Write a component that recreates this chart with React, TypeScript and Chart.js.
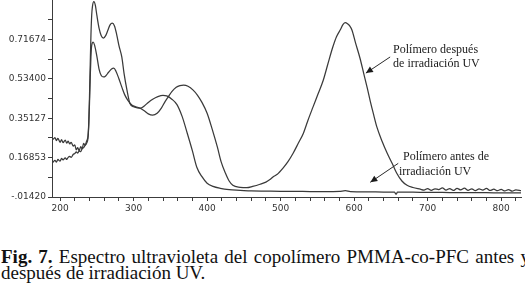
import React, { useEffect, useRef } from "react";
import { Chart, registerables } from "chart.js";

Chart.register(...registerables);

// ---- data (wavelength nm, absorbance) ----
const beforeX = [189,191,193,195,197,200,202,204,207,209,211,213,215,218,220,222,224,226,228,230,232,234,236,238,239,240,241,242,243,244,246,248,250,253,256,259,262,265,268,271,274,277,280,284,287,291,295,300,305,309,315,320,326,333,340,345,352,359,366,373,380,386,393,400,408,418,430,445,460,480,500,520,540,560,580,588,595,620,640,655,657,659,680,700,720,740,760,780,800,827];
const beforeY = [0.263,0.255,0.262,0.248,0.258,0.240,0.252,0.238,0.250,0.236,0.245,0.232,0.240,0.222,0.228,0.205,0.215,0.200,0.220,0.210,0.235,0.225,0.245,0.270,0.330,0.450,0.600,0.740,0.830,0.870,0.893,0.875,0.830,0.770,0.735,0.724,0.735,0.760,0.785,0.793,0.780,0.740,0.690,0.635,0.560,0.482,0.420,0.405,0.400,0.398,0.410,0.425,0.440,0.452,0.458,0.455,0.440,0.415,0.360,0.282,0.200,0.124,0.080,0.050,0.035,0.026,0.020,0.017,0.014,0.013,0.012,0.012,0.011,0.011,0.012,0.015,0.011,0.010,0.009,0.008,-0.002,0.008,0.008,0.007,0.007,0.006,0.006,0.006,0.005,0.005];

const afterX = [189,191,193,195,197,200,202,204,207,209,211,213,215,218,220,222,224,226,228,230,232,234,236,238,239,240,241,242,243,245,247,250,253,256,259,262,266,270,273,276,280,284,288,292,298,303,309,315,320,326,332,338,343,347,352,358,363,368,374,381,387,393,400,407,414,419,425,430,435,445,454,462,472,480,486,490,495,503,510,517,524,531,537,544,551,558,564,571,576,581,585,588,591,594,597,602,608,613,618,622,626,631,638,645,652,658,665,672,680,690,695,700,705,710,715,720,725,730,735,740,745,750,755,760,765,770,775,780,785,790,795,800,805,810,815,820,827];
const afterY = [0.142,0.150,0.156,0.148,0.160,0.152,0.165,0.158,0.168,0.160,0.170,0.175,0.170,0.184,0.188,0.195,0.190,0.200,0.196,0.210,0.215,0.225,0.235,0.260,0.320,0.420,0.540,0.640,0.690,0.705,0.690,0.640,0.580,0.550,0.543,0.548,0.565,0.580,0.584,0.570,0.535,0.496,0.460,0.436,0.412,0.405,0.398,0.385,0.372,0.366,0.375,0.400,0.430,0.450,0.475,0.495,0.503,0.505,0.500,0.482,0.458,0.425,0.375,0.300,0.217,0.150,0.096,0.060,0.040,0.031,0.029,0.035,0.045,0.055,0.068,0.080,0.090,0.119,0.150,0.189,0.235,0.282,0.340,0.403,0.465,0.528,0.600,0.682,0.730,0.761,0.787,0.795,0.790,0.780,0.761,0.700,0.630,0.560,0.490,0.430,0.375,0.310,0.245,0.189,0.140,0.096,0.060,0.040,0.030,0.022,0.018,0.025,0.017,0.024,0.020,0.028,0.018,0.025,0.016,0.026,0.019,0.027,0.017,0.024,0.015,0.023,0.018,0.026,0.016,0.022,0.015,0.021,0.014,0.020,0.013,0.019,0.015];

const yTickValues = [-0.0142, 0.16853, 0.35127, 0.534, 0.71674];
const yTickLabels = ["-.01420", "0.16853", "0.35127", "0.53400", "0.71674"];
const xTickLabels = [200, 300, 400, 500, 600, 700, 800];

const xMin = 189;
const xMax = 827;
const yMin = -0.0142;
const yMax = 0.9005;

// annotations in data coordinates
const noteAfterLines = ["Polímero después", "de irradiación UV"];
const noteAfterTextX = [653, 653];
const noteAfterTextY = [0.668, 0.606];
const noteAfterArrow = [649, 0.636, 616, 0.561];

const noteBeforeLines = ["Polímero antes de", "irradiación UV"];
const noteBeforeTextX = [666.5, 661];
const noteBeforeTextY = [0.171, 0.101];
const noteBeforeArrow = [660, 0.142, 622, 0.054];

const captionBold = "Fig. 7.";
const captionLine1 = " Espectro ultravioleta del copolímero PMMA-co-PFC antes y";
const captionLine2 = "después de irradiación UV.";

const notesPlugin = {
  id: "notes",
  afterDatasetsDraw(chart: any) {
    const { ctx, scales } = chart;
    const xs = scales.x;
    const ys = scales.y;
    ctx.save();
    ctx.fillStyle = "#1a1a1a";
    ctx.strokeStyle = "#2a2a2a";
    ctx.font = '12px "Liberation Serif"';
    ctx.textBaseline = "middle";
    ctx.textAlign = "left";
    const drawNote = (lines: string[], tx: number[], ty: number[], arrow: number[]) => {
      lines.forEach((l, i) => {
        ctx.fillText(l, xs.getPixelForValue(tx[i]), ys.getPixelForValue(ty[i]));
      });
      const x0 = xs.getPixelForValue(arrow[0]);
      const y0 = ys.getPixelForValue(arrow[1]);
      const x1 = xs.getPixelForValue(arrow[2]);
      const y1 = ys.getPixelForValue(arrow[3]);
      ctx.lineWidth = 1;
      ctx.beginPath();
      ctx.moveTo(x0, y0);
      ctx.lineTo(x1, y1);
      ctx.stroke();
      const ang = Math.atan2(y1 - y0, x1 - x0);
      const L = 7;
      const W = 3.2;
      ctx.beginPath();
      ctx.moveTo(x1, y1);
      ctx.lineTo(x1 - L * Math.cos(ang) + W * Math.sin(ang), y1 - L * Math.sin(ang) - W * Math.cos(ang));
      ctx.lineTo(x1 - L * Math.cos(ang) - W * Math.sin(ang), y1 - L * Math.sin(ang) + W * Math.cos(ang));
      ctx.closePath();
      ctx.fill();
    };
    drawNote(noteAfterLines, noteAfterTextX, noteAfterTextY, noteAfterArrow);
    drawNote(noteBeforeLines, noteBeforeTextX, noteBeforeTextY, noteBeforeArrow);
    ctx.restore();
  },
};

export default function App() {
  const ref = useRef<HTMLCanvasElement>(null);
  useEffect(() => {
    if (!ref.current) return;
    const toPts = (xs: number[], ys: number[]) => xs.map((x, i) => ({ x, y: ys[i] }));
    const axisColor = "#3c3c3c";
    const lineStyle = {
      borderColor: "#3a3a3a",
      borderWidth: 1.25,
      pointRadius: 0,
      cubicInterpolationMode: "monotone",
      fill: false,
    };
    const chart = new Chart(ref.current, {
      type: "line",
      data: {
        datasets: [
          { label: "antes", data: toPts(beforeX, beforeY), ...lineStyle },
          { label: "después", data: toPts(afterX, afterY), ...lineStyle },
        ],
      },
      options: {
        responsive: false,
        animation: false,
        events: [],
        layout: { padding: { left: 0, top: 0, right: 4, bottom: 0 } },
        plugins: { legend: { display: false }, tooltip: { enabled: false } },
        scales: {
          x: {
            type: "linear",
            min: xMin,
            max: xMax,
            afterBuildTicks: (s: any) => {
              const t = [];
              for (let v = 200; v <= 820; v += 20) t.push({ value: v });
              s.ticks = t;
            },
            afterFit: (s: any) => {
              s.height = 23;
              s.paddingLeft = 0;
              s.paddingRight = 0;
            },
            ticks: {
              autoSkip: false,
              maxRotation: 0,
              padding: 2,
              color: "#333",
              font: { family: "DejaVu Sans", size: 9 },
              callback: (v: any) => (xTickLabels.includes(Math.round(v)) ? String(Math.round(v)) : ""),
            },
            grid: { drawOnChartArea: false, drawTicks: true, tickLength: 4, color: axisColor },
            border: { display: true, color: axisColor, width: 1 },
          },
          y: {
            type: "linear",
            min: yMin,
            max: yMax,
            afterBuildTicks: (s: any) => {
              const t = [];
              const step = (yTickValues[1] - yTickValues[0]) / 2;
              for (let k = 0; k < 10; k++) t.push({ value: yTickValues[0] + k * step });
              s.ticks = t;
            },
            afterFit: (s: any) => {
              s.width = 52;
              s.paddingTop = 0;
              s.paddingBottom = 0;
            },
            ticks: {
              autoSkip: false,
              padding: 2,
              color: "#333",
              font: { family: "DejaVu Sans", size: 9 },
              callback: (v: any) => {
                const i = yTickValues.findIndex((t) => Math.abs(t - v) < 1e-3);
                return i >= 0 ? yTickLabels[i] : "";
              },
            },
            grid: { drawOnChartArea: false, drawTicks: true, tickLength: 4, color: axisColor },
            border: { display: true, color: axisColor, width: 1 },
          },
        },
      },
      plugins: [notesPlugin],
    } as any);
    return () => chart.destroy();
  }, []);

  return (
    <div style={{ position: "absolute", left: 0, top: 0, width: 525, height: 288, overflow: "hidden", background: "#fff" }}>
      <canvas ref={ref} width={525} height={220} style={{ display: "block" }} />
      <div
        style={{
          position: "absolute",
          left: 1,
          top: 249,
          width: 529,
          fontFamily: '"Liberation Serif", "Times New Roman", serif',
          fontSize: 19,
          lineHeight: "16px",
          color: "#111",
        }}
      >
        <div style={{ textAlign: "justify", textAlignLast: "justify" as any, whiteSpace: "nowrap" }}>
          <b>{captionBold}</b>
          {captionLine1}
        </div>
        <div style={{ whiteSpace: "nowrap" }}>{captionLine2}</div>
      </div>
    </div>
  );
}
